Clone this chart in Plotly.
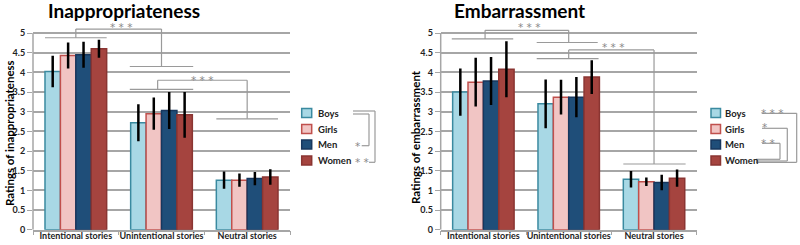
import plotly.graph_objects as go

# ---------------- data ----------------
categories = ["Intentional stories", "Unintentional stories", "Neutral stories"]
groups = ["Boys", "Girls", "Men", "Women"]

inap_boys = [4.02, 2.72, 1.26]
inap_girls = [4.43, 2.95, 1.26]
inap_men = [4.45, 3.03, 1.30]
inap_women = [4.60, 2.92, 1.34]
inap_boys_err = [0.40, 0.47, 0.22]
inap_girls_err = [0.33, 0.41, 0.17]
inap_men_err = [0.33, 0.47, 0.17]
inap_women_err = [0.23, 0.58, 0.20]

emb_boys = [3.50, 3.20, 1.28]
emb_girls = [3.75, 3.37, 1.22]
emb_men = [3.78, 3.37, 1.20]
emb_women = [4.08, 3.88, 1.31]
emb_boys_err = [0.60, 0.62, 0.21]
emb_girls_err = [0.62, 0.44, 0.11]
emb_men_err = [0.61, 0.51, 0.20]
emb_women_err = [0.71, 0.43, 0.22]

y_ticks = [0, 0.5, 1, 1.5, 2, 2.5, 3, 3.5, 4, 4.5, 5]
y_ticktext = ["0", "0.5", "1", "1.5", "2", "2.5", "3", "3.5", "4", "4.5", "5"]

# ---------------- styles ----------------
FILL = {"Boys": "#a8d8e5", "Girls": "#f1c5c4", "Men": "#1f4e79", "Women": "#a5443f"}
EDGE = {"Boys": "#3a8aa0", "Girls": "#c0504d", "Men": "#17375e", "Women": "#8a3532"}
GRID = "#a6a6a6"
BR = "#9a9a9a"
FONT = "Lato"
W, H = 800, 245

fig = go.Figure()

panels = [
    ("x", "y", [inap_boys, inap_girls, inap_men, inap_women],
     [inap_boys_err, inap_girls_err, inap_men_err, inap_women_err]),
    ("x2", "y2", [emb_boys, emb_girls, emb_men, emb_women],
     [emb_boys_err, emb_girls_err, emb_men_err, emb_women_err]),
]
for xa, ya, vals, errs in panels:
    for g, v, e in zip(groups, vals, errs):
        fig.add_trace(go.Bar(
            x=categories, y=v, name=g, xaxis=xa, yaxis=ya, showlegend=False,
            marker=dict(color=FILL[g], line=dict(color=EDGE[g], width=1.5)),
            error_y=dict(type="data", array=e, color="black", thickness=2.5, width=0),
        ))

ydom = [(245 - 229.7) / 245, (245 - 27.15) / 245]
axis_common = dict(
    type="category", tickson="boundaries", ticks="outside", ticklen=4,
    tickcolor=GRID, showline=True, linecolor=GRID, linewidth=1.5,
    showgrid=False, range=[-0.5, 2.5], tickangle=0, automargin=False,
    ticklabelstandoff=-3,
    tickfont=dict(family=FONT, size=9, color="#222", weight="bold"),
)
yaxis_common = dict(
    range=[0, 5.15], tickvals=y_ticks, ticktext=y_ticktext, ticks="outside",
    ticklen=5, tickcolor=GRID, showline=False, showgrid=True, gridcolor=GRID,
    gridwidth=1.5, zeroline=False, automargin=False,
    tickfont=dict(family=FONT, size=9, color="#222", weight="bold"),
)
fig.update_layout(
    width=W, height=H, margin=dict(l=0, r=0, t=0, b=0),
    paper_bgcolor="white", plot_bgcolor="white",
    barmode="group", bargap=0.28, bargroupgap=0,
    xaxis=dict(domain=[33 / W, 290 / W], anchor="y", **axis_common),
    yaxis=dict(domain=ydom, anchor="x", **yaxis_common),
    xaxis2=dict(domain=[440.7 / W, 696.7 / W], anchor="y2", **axis_common),
    yaxis2=dict(domain=ydom, anchor="x2", **yaxis_common),
)

shapes = []
# y-axis lines (0..5)
for xa, ya in [("x", "y"), ("x2", "y2")]:
    shapes.append(dict(type="line", xref=f"{xa} domain", yref=ya, x0=0, x1=0, y0=0, y1=5,
                       line=dict(color=GRID, width=1.5)))


def seg(xa, ya, pts):
    for (x0, y0), (x1, y1) in zip(pts[:-1], pts[1:]):
        shapes.append(dict(type="line", xref=xa, yref=ya, x0=x0, y0=y0, x1=x1, y1=y1,
                           line=dict(color=BR, width=1.2)))


# significance brackets, left panel
seg("x", "y", [(-0.36, 4.88), (0.36, 4.88)])
seg("x", "y", [(0.0, 4.88), (0.0, 5.10), (1.0, 5.10), (1.0, 4.15)])
seg("x", "y", [(0.63, 4.15), (1.37, 4.15)])
seg("x", "y", [(0.63, 3.57), (1.37, 3.57)])
seg("x", "y", [(0.955, 3.57), (0.955, 3.80), (2.0, 3.80), (2.0, 2.82)])
seg("x", "y", [(1.64, 2.82), (2.36, 2.82)])
# right panel
seg("x2", "y2", [(-0.37, 4.85), (0.35, 4.85)])
seg("x2", "y2", [(0.02, 4.85), (0.02, 5.07), (1.0, 5.07), (1.0, 4.76)])
seg("x2", "y2", [(0.625, 4.76), (1.34, 4.76)])
seg("x2", "y2", [(0.625, 4.35), (1.35, 4.35)])
seg("x2", "y2", [(1.0, 4.35), (1.0, 4.57), (2.0, 4.57), (2.0, 1.67)])
seg("x2", "y2", [(1.64, 1.67), (2.37, 1.67)])


def px(x):
    return x / W


def py(y):
    return 1 - y / H


def pseg(pts):
    for (x0, y0), (x1, y1) in zip(pts[:-1], pts[1:]):
        shapes.append(dict(type="line", xref="paper", yref="paper",
                           x0=px(x0), y0=py(y0), x1=px(x1), y1=py(y1),
                           line=dict(color=BR, width=1.2)))


annotations = []
# manual legends
leg_y = [113, 129, 144.5, 160.5]
for sq_x0, sq_x1, tx in [(301.7, 311.7, 316), (711, 720.5, 723)]:
    for g, yy in zip(groups, leg_y):
        shapes.append(dict(type="rect", xref="paper", yref="paper",
                           x0=px(sq_x0), x1=px(sq_x1), y0=py(yy + 4.5), y1=py(yy - 4.5),
                           fillcolor=FILL[g], line=dict(color=EDGE[g], width=1.5)))
        annotations.append(dict(text=g, xref="paper", yref="paper", x=px(tx), y=py(yy),
                                xanchor="left", yanchor="middle", showarrow=False,
                                font=dict(family=FONT, size=9.5, color="#222", weight="bold")))

# legend brackets
pseg([(353, 114), (369, 114), (369, 145.7), (361.7, 145.7)])
pseg([(353, 111), (375, 111), (375, 162.3), (369, 162.3)])
pseg([(761.7, 113.3), (796.7, 113.3), (796.7, 162.3), (756, 162.3)])
pseg([(762, 128.3), (787.3, 128.3), (787.3, 161), (756, 161)])
pseg([(762, 143.3), (780, 143.3), (780, 159.3), (756, 159.3)])


def star(text, x, y, xref="paper", yref="paper"):
    annotations.append(dict(text=text, xref=xref, yref=yref, x=x, y=y, showarrow=False,
                            xanchor="center", yanchor="middle",
                            font=dict(family="DejaVu Sans", size=10.5, color="#888888")))


star("* * *", 0.523, 5.15, "x", "y")
star("* * *", 1.47, 3.81, "x", "y")
star("* * *", 0.535, 5.15, "x2", "y2")
star("* * *", 1.516, 4.64, "x2", "y2")
star("*", px(357.5), py(146))
star("* *", px(361.5), py(162))
star("* * *", px(771.7), py(113))
star("*", px(764), py(127))
star("* *", px(768), py(142.5))

# titles
annotations.append(dict(text="Inappropriateness", xref="paper", yref="paper",
                        x=px(124), y=py(11), showarrow=False, xanchor="center", yanchor="middle",
                        font=dict(family=FONT, size=19, color="black", weight="bold")))
annotations.append(dict(text="Embarrassment", xref="paper", yref="paper",
                        x=px(519), y=py(11), showarrow=False, xanchor="center", yanchor="middle",
                        font=dict(family=FONT, size=19, color="black", weight="bold")))
annotations.append(dict(text="Ratings of inappropriateness", xref="paper", yref="paper",
                        x=px(9), y=py(133), showarrow=False, textangle=-90,
                        xanchor="center", yanchor="middle",
                        font=dict(family=FONT, size=11.5, color="black", weight="bold")))
annotations.append(dict(text="Ratings of embarrassment", xref="paper", yref="paper",
                        x=px(415), y=py(137), showarrow=False, textangle=-90,
                        xanchor="center", yanchor="middle",
                        font=dict(family=FONT, size=11.5, color="black", weight="bold")))

fig.update_layout(shapes=shapes, annotations=annotations)
# remove the browser's default 8px page margin so the figure fills the window
fig.write_html("out.html", config={"displayModeBar": False},
               post_script="document.body.style.margin='0';")
